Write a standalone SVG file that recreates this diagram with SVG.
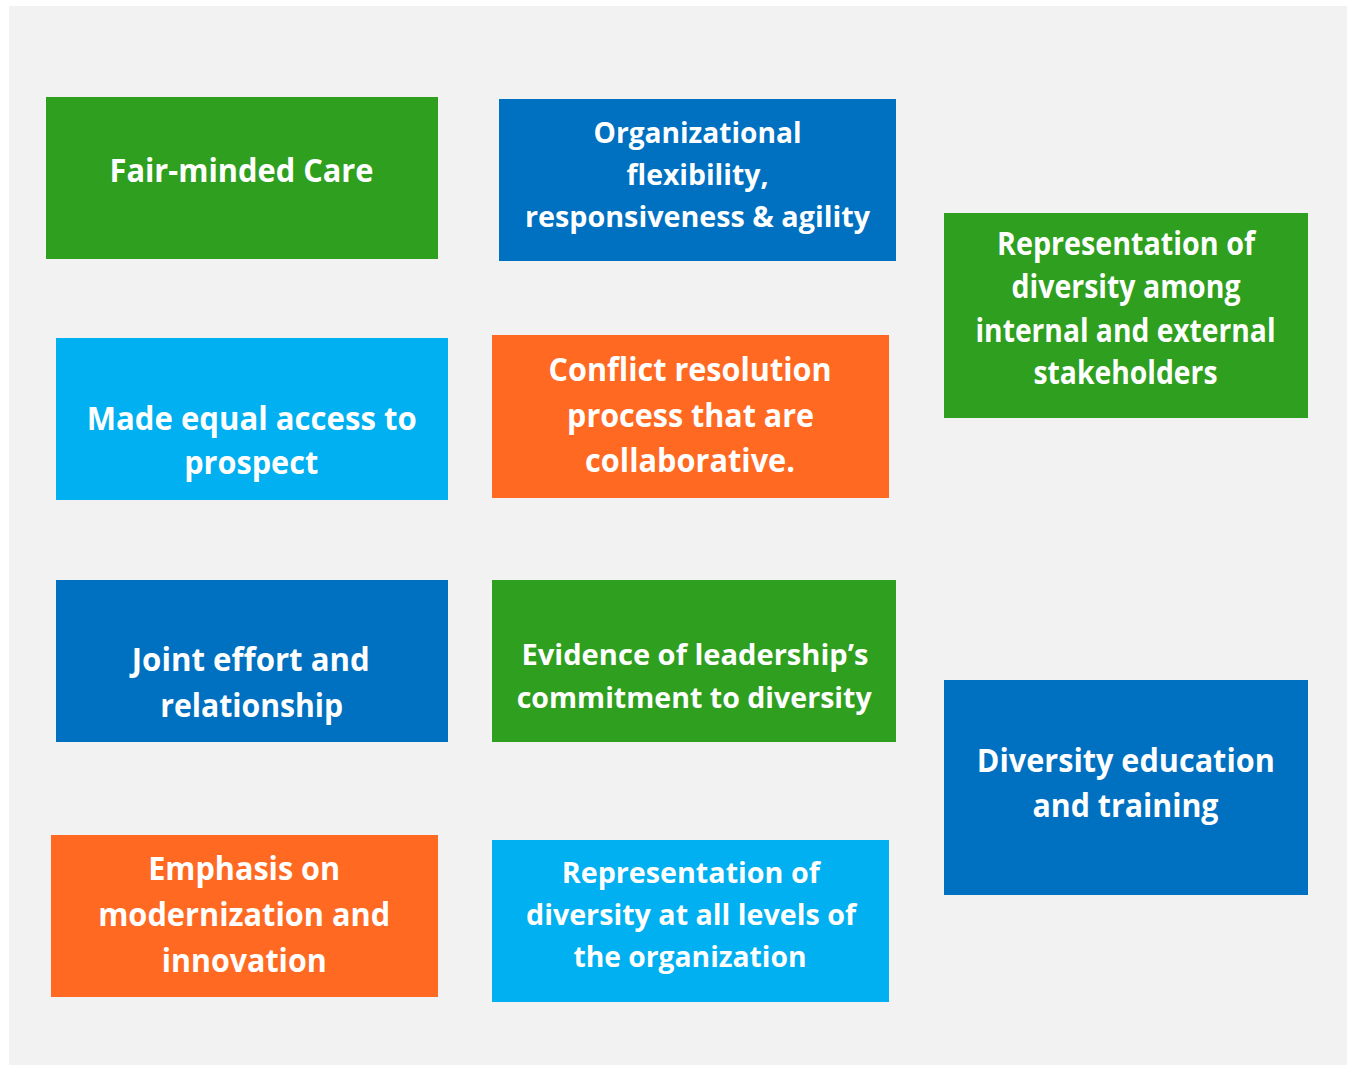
<svg xmlns="http://www.w3.org/2000/svg" width="1347" height="1065" viewBox="0 0 1347 1065">
<style>
.bg{fill:#F2F2F2}
.green{fill:#2E9F1E}
.blue{fill:#0070C0}
.sky{fill:#00B0F0}
.orange{fill:#FF6922}
text{font-family:"Open Sans","Liberation Sans",sans-serif;font-weight:bold;fill:#FFFFFF;text-anchor:middle}
.l{font-size:32px}
.s{font-size:28.5px}
</style>
<rect x="0" y="0" width="1347" height="1065" fill="#FFFFFF"/>
<rect class="bg" x="9" y="6" width="1338" height="1059"/>

<g id="fair-minded-care">
<rect class="green" x="46" y="97" width="392" height="162"/>
<text class="l" x="241.5" y="181.7" textLength="264" lengthAdjust="spacingAndGlyphs">Fair-minded Care</text>
</g>

<g id="organizational-flexibility">
<rect class="blue" x="499" y="99" width="397" height="162"/>
<text class="s" x="697.5" y="142.7" textLength="208" lengthAdjust="spacingAndGlyphs">Organizational</text>
<text class="s" x="697.5" y="184.5" textLength="142" lengthAdjust="spacingAndGlyphs">flexibility,</text>
<text class="s" x="697.5" y="226.5" textLength="345" lengthAdjust="spacingAndGlyphs">responsiveness &amp; agility</text>
</g>

<g id="representation-stakeholders">
<rect class="green" x="944" y="213" width="364" height="205"/>
<text class="l" x="1126" y="255.3" textLength="258" lengthAdjust="spacingAndGlyphs">Representation of</text>
<text class="l" x="1126" y="298" textLength="229" lengthAdjust="spacingAndGlyphs">diversity among</text>
<text class="l" x="1125.5" y="341.5" textLength="300" lengthAdjust="spacingAndGlyphs">internal and external</text>
<text class="l" x="1125.5" y="383.5" textLength="184" lengthAdjust="spacingAndGlyphs">stakeholders</text>
</g>

<g id="made-equal-access">
<rect class="sky" x="56" y="338" width="392" height="162"/>
<text class="l" x="251.7" y="430" textLength="330" lengthAdjust="spacingAndGlyphs">Made equal access to</text>
<text class="l" x="251.2" y="473.8" textLength="134" lengthAdjust="spacingAndGlyphs">prospect</text>
</g>

<g id="conflict-resolution">
<rect class="orange" x="492" y="335" width="397" height="163"/>
<text class="l" x="690" y="381" textLength="283" lengthAdjust="spacingAndGlyphs">Conflict resolution</text>
<text class="l" x="690.6" y="426.7" textLength="247" lengthAdjust="spacingAndGlyphs">process that are</text>
<text class="l" x="690" y="471.7" textLength="210" lengthAdjust="spacingAndGlyphs">collaborative.</text>
</g>

<g id="joint-effort">
<rect class="blue" x="56" y="580" width="392" height="162"/>
<text class="l" x="250.8" y="671" textLength="238" lengthAdjust="spacingAndGlyphs">Joint effort and</text>
<text class="l" x="251.7" y="716.7" textLength="183" lengthAdjust="spacingAndGlyphs">relationship</text>
</g>

<g id="leadership-commitment">
<rect class="green" x="492" y="580" width="404" height="162"/>
<text class="s" x="695" y="665" textLength="347" lengthAdjust="spacingAndGlyphs">Evidence of leadership’s</text>
<text class="s" x="694.2" y="708.3" textLength="355" lengthAdjust="spacingAndGlyphs">commitment to diversity</text>
</g>

<g id="diversity-education">
<rect class="blue" x="944" y="680" width="364" height="215"/>
<text class="l" x="1125.8" y="771.7" textLength="298" lengthAdjust="spacingAndGlyphs">Diversity education</text>
<text class="l" x="1125.5" y="816.7" textLength="186" lengthAdjust="spacingAndGlyphs">and training</text>
</g>

<g id="modernization-innovation">
<rect class="orange" x="51" y="835" width="387" height="162"/>
<text class="l" x="244.2" y="880" textLength="192" lengthAdjust="spacingAndGlyphs">Emphasis on</text>
<text class="l" x="244.2" y="925.7" textLength="292" lengthAdjust="spacingAndGlyphs">modernization and</text>
<text class="l" x="244.2" y="971.7" textLength="165" lengthAdjust="spacingAndGlyphs">innovation</text>
</g>

<g id="representation-levels">
<rect class="sky" x="492" y="840" width="397" height="162"/>
<text class="s" x="690.8" y="882.7" textLength="258" lengthAdjust="spacingAndGlyphs">Representation of</text>
<text class="s" x="691" y="925" textLength="330" lengthAdjust="spacingAndGlyphs">diversity at all levels of</text>
<text class="s" x="690" y="966.7" textLength="233" lengthAdjust="spacingAndGlyphs">the organization</text>
</g>
</svg>
